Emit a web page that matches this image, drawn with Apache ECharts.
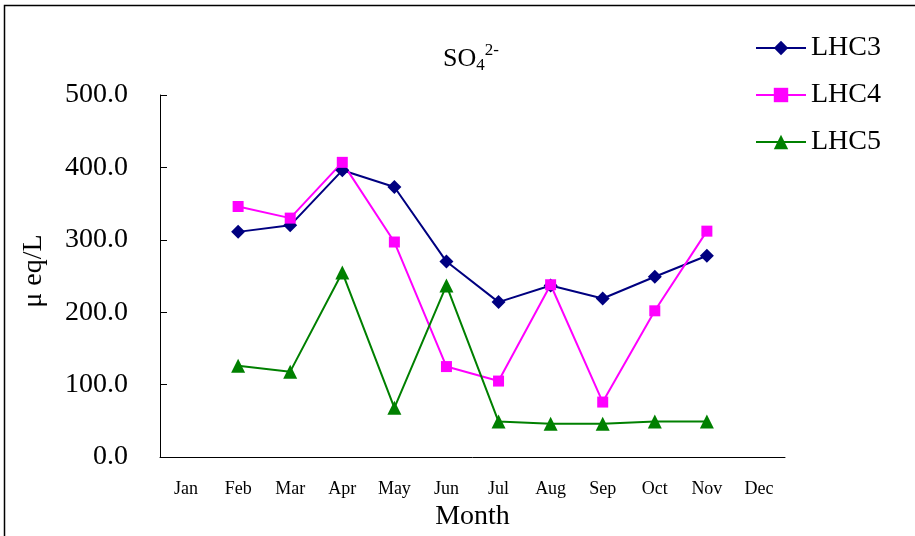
<!DOCTYPE html>
<html>
<head>
<meta charset="utf-8">
<script src="https://cdn.jsdelivr.net/npm/echarts@6/dist/echarts.min.js"></script>
<style>html,body{margin:0;padding:0;background:#fff}#c{width:915px;height:536px}</style>
</head>
<body>
<div id="c"></div>
<script>
const months = ['Jan','Feb','Mar','Apr','May','Jun','Jul','Aug','Sep','Oct','Nov','Dec'];
const lhc3 = [null, 311, 320, 396, 373, 270, 214, 237, 219, 249, 278, null];
const lhc4 = [null, 346, 330, 407, 297, 125, 105, 238, 76, 202, 312, null];
const lhc5 = [null, 126, 118, 255, 68, 237, 49, 46, 46, 49, 49, null];
const seriesNames = ['LHC3','LHC4','LHC5'];
const yTicks = [0, 100, 200, 300, 400, 500];

const FONT = '"Liberation Serif", "DejaVu Serif", serif';
const chart = echarts.init(document.getElementById('c'), null, {renderer:'canvas'});
chart.setOption({
  animation: false,
  backgroundColor: '#fff',
  title: {
    text: '{m|SO}{sub|4}{sup|2-}',
    left: 438, top: 38,
    textStyle: {
      fontWeight: 'normal',
      rich: {
        m: {fontFamily: FONT, fontSize: 26, fontWeight: 'normal', color: '#000', lineHeight: 32},
        sub: {fontFamily: FONT, fontSize: 17, fontWeight: 'normal', color: '#000', padding: [14, 0, 0, 0], lineHeight: 32},
        sup: {fontFamily: FONT, fontSize: 17, fontWeight: 'normal', color: '#000', padding: [0, 0, 16, 0], lineHeight: 32}
      }
    }
  },
  legend: {
    orient: 'vertical',
    left: 750, top: 28,
    itemWidth: 50, itemHeight: 18,
    itemGap: 17,
    data: seriesNames,
    textStyle: {fontFamily: FONT, fontSize: 28, color: '#000', lineHeight: 30}
  },
  graphic: [{
    type: 'rect',
    shape: {x: 4.5, y: 5.5, width: 1000, height: 1000},
    style: {fill: 'none', stroke: '#000', lineWidth: 1.5},
    silent: true, z: 100
  }],
  grid: {left: 160, top: 95, width: 625, height: 367},
  xAxis: {
    type: 'category',
    data: months,
    boundaryGap: true,
    name: 'Month',
    nameLocation: 'middle',
    nameGap: 36,
    nameTextStyle: {fontFamily: FONT, fontSize: 28, color: '#000'},
    axisLine: {lineStyle: {color: '#000', width: 1}},
    axisTick: {inside: true, length: 7, lineStyle: {color: '#000'}},
    axisLabel: {fontFamily: FONT, fontSize: 18, color: '#000', margin: 23},
    splitLine: {show: false}
  },
  yAxis: {
    type: 'value',
    min: yTicks[0], max: yTicks[yTicks.length - 1], interval: 100,
    name: 'μ eq/L',
    nameLocation: 'middle',
    nameGap: 112,
    nameRotate: 90,
    nameTextStyle: {fontFamily: FONT, fontSize: 28, color: '#000', padding: [0, 0, 0, 10]},
    axisLine: {show: true, lineStyle: {color: '#000', width: 1}},
    axisTick: {show: true, inside: true, length: 7, lineStyle: {color: '#000'}},
    axisLabel: {fontFamily: FONT, fontSize: 28, color: '#000', margin: 32,
      formatter: v => v.toFixed(1)},
    splitLine: {show: false}
  },
  series: [
    {name: 'LHC3', type: 'line', data: lhc3, color: '#000080',
      symbol: 'diamond', symbolSize: 14, lineStyle: {width: 2}},
    {name: 'LHC4', type: 'line', data: lhc4, color: '#FF00FF',
      symbol: 'rect', symbolSize: 11, lineStyle: {width: 2}},
    {name: 'LHC5', type: 'line', data: lhc5, color: '#008000',
      symbol: 'triangle', symbolSize: 14, lineStyle: {width: 2}}
  ]
});
</script>
</body>
</html>
